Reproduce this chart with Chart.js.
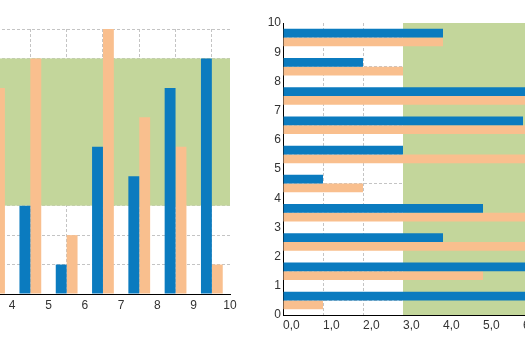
<!DOCTYPE html>
<html>
<head>
<meta charset="utf-8">
<script src="https://cdn.jsdelivr.net/npm/chart.js@4.4.0/dist/chart.umd.min.js"></script>
<style>
  html, body { margin: 0; padding: 0; background: #fff; overflow: hidden; width: 525px; height: 350px; }
  #left { position: absolute; left: -140px; top: 0; }
  #right { position: absolute; left: 250px; top: 0; }
</style>
</head>
<body>
<canvas id="left" width="380" height="350"></canvas>
<canvas id="right" width="363" height="350"></canvas>
<script>
// left chart - vertical bars, one slot per unit on a 0..10 axis
const leftSlots = [0, 1, 2, 3, 4, 5, 6, 7, 8, 9];
const leftBlue = [6, 2, 4, 5, 3, 1, 5, 4, 7, 8];
const leftOrange = [3, 7, 5, 7, 8, 2, 9, 6, 5, 1];
const leftBand = [3, 8];
const leftXTicks = ['0', '1', '2', '3', '4', '5', '6', '7', '8', '9', '10'];

// right chart - horizontal bars
const rightSlots = [0, 1, 2, 3, 4, 5, 6, 7, 8, 9];
const rightBlue = [7, 7.5, 4, 5, 1, 3, 6, 8, 2, 4];
const rightOrange = [1, 5, 7, 6.5, 2, 7, 8, 7, 3, 4];
const rightBand = [3, 8];
const rightXTicks = ['0,0', '1,0', '2,0', '3,0', '4,0', '5,0', '6,0', '7,0', '8,0'];

const BLUE = '#0b7bbf';
const ORANGE = '#f9bf8e';
const GREEN = '#c3d69b';
const GRID = '#c4c4c4';
const FONT = { family: '"Liberation Sans", Arial, sans-serif', size: 12 };

// green range drawn behind the bars, above the grid
const bandPlugin = {
  id: 'band',
  beforeDatasetsDraw(chart, args, opts) {
    const a = chart.chartArea;
    const s = chart.scales[opts.axis];
    const p1 = s.getPixelForValue(opts.from);
    const p2 = s.getPixelForValue(opts.to);
    const ctx = chart.ctx;
    ctx.save();
    ctx.fillStyle = opts.color;
    if (opts.axis === 'y') {
      ctx.fillRect(a.left, Math.min(p1, p2), a.right - a.left, Math.abs(p2 - p1));
    } else {
      ctx.fillRect(Math.min(p1, p2), a.top, Math.abs(p2 - p1), a.bottom - a.top);
    }
    ctx.restore();
  }
};

function noPad(s) {
  s.paddingTop = 0; s.paddingBottom = 0; s.paddingLeft = 0; s.paddingRight = 0;
}

new Chart(document.getElementById('left'), {
  type: 'bar',
  data: {
    datasets: [
      { data: leftSlots.map((s, i) => ({ x: s + 0.5, y: leftBlue[i] })), backgroundColor: BLUE },
      { data: leftSlots.map((s, i) => ({ x: s + 0.5, y: leftOrange[i] })), backgroundColor: ORANGE }
    ]
  },
  options: {
    responsive: false,
    animation: false,
    layout: { padding: { left: 0, right: 10, top: 29, bottom: 36 } },
    datasets: { bar: { categoryPercentage: 0.6, barPercentage: 1, borderWidth: 0 } },
    plugins: {
      legend: { display: false },
      tooltip: { enabled: false },
      band: { axis: 'y', from: leftBand[0], to: leftBand[1], color: GREEN }
    },
    scales: {
      x: {
        type: 'linear', min: 0, max: 10, offset: false,
        ticks: { stepSize: 1, padding: 4, color: '#333', font: FONT,
                 callback: v => leftXTicks[v] },
        grid: { color: GRID, drawTicks: false },
        border: { display: true, color: '#000', width: 1, dash: [3, 2], z: 1 },
        afterFit: s => { s.height = 20; noPad(s); }
      },
      y: {
        type: 'linear', min: 0, max: 9,
        ticks: { stepSize: 1, display: false },
        grid: { color: GRID, drawTicks: false },
        border: { display: false, dash: [3, 2] },
        afterFit: s => { s.width = 7; noPad(s); }
      }
    }
  },
  plugins: [bandPlugin]
});

new Chart(document.getElementById('right'), {
  type: 'bar',
  data: {
    datasets: [
      { data: rightSlots.map((s, i) => ({ y: s + 0.5, x: rightBlue[i] })), backgroundColor: BLUE },
      { data: rightSlots.map((s, i) => ({ y: s + 0.5, x: rightOrange[i] })), backgroundColor: ORANGE }
    ]
  },
  options: {
    indexAxis: 'y',
    responsive: false,
    animation: false,
    layout: { padding: { left: 0, right: 10, top: 23, bottom: 15 } },
    datasets: { bar: { categoryPercentage: 0.6, barPercentage: 1, borderWidth: 0 } },
    plugins: {
      legend: { display: false },
      tooltip: { enabled: false },
      band: { axis: 'x', from: rightBand[0], to: rightBand[1], color: GREEN }
    },
    scales: {
      x: {
        type: 'linear', min: 0, max: 8, offset: false,
        ticks: { stepSize: 1, padding: 3, align: 'start', color: '#333', font: FONT,
                 callback: v => rightXTicks[v] },
        grid: { color: GRID, drawTicks: false },
        border: { display: true, color: '#000', width: 1, dash: [3, 2], z: 1 },
        afterFit: s => { s.height = 20; noPad(s); }
      },
      y: {
        type: 'linear', min: 0, max: 10, offset: false,
        ticks: { stepSize: 1, padding: 2, color: '#333', font: FONT },
        grid: { color: GRID, drawTicks: false },
        border: { display: true, color: '#000', width: 1, dash: [3, 2] },
        afterFit: s => { s.width = 33; noPad(s); }
      }
    }
  },
  plugins: [bandPlugin]
});
</script>
</body>
</html>
